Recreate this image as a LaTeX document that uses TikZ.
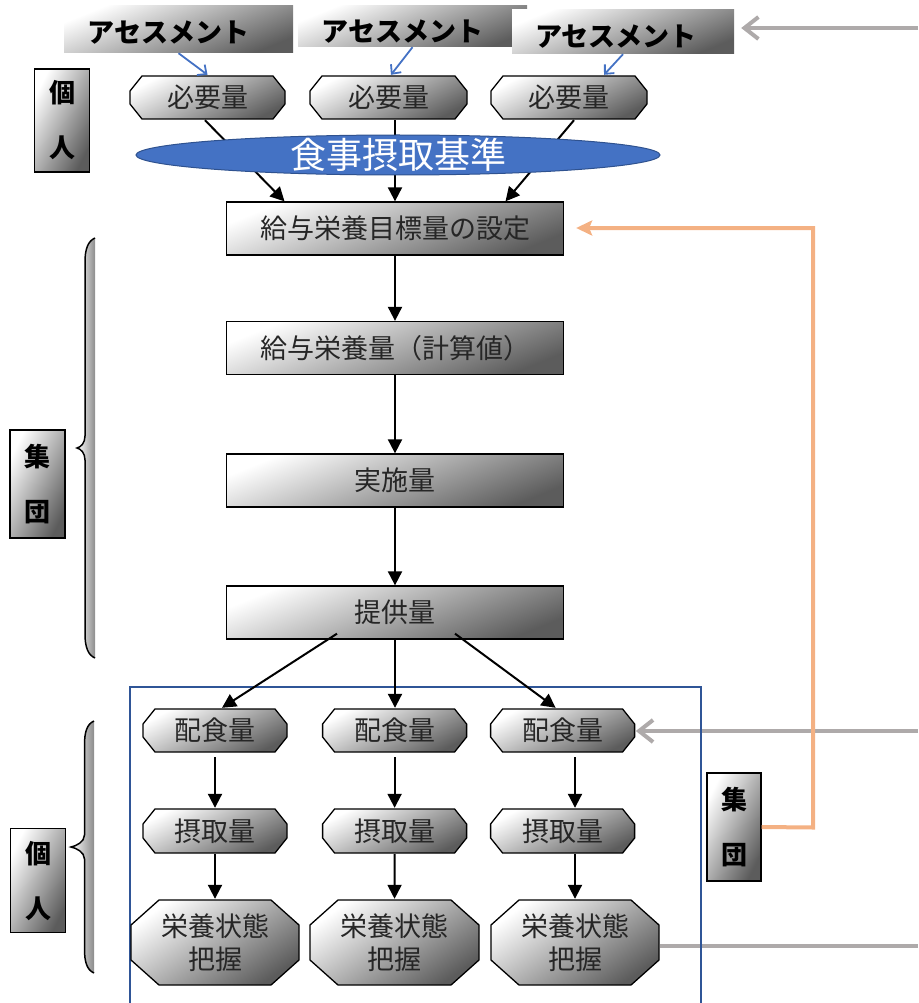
\documentclass[tikz,border=0pt]{standalone}
\usepackage{fontspec}
\newfontfamily\jp{Noto Sans CJK JP}
\usetikzlibrary{arrows.meta,calc,shapes.geometric}

\definecolor{boxdark}{RGB}{92,92,92}
\definecolor{ellblue}{RGB}{68,114,196}
\definecolor{ellrim}{RGB}{47,82,143}
\definecolor{frameblue}{RGB}{47,85,151}
\definecolor{feedgray}{RGB}{174,170,170}
\definecolor{feedorange}{RGB}{244,177,131}

\tikzset{
  gradfill/.style={top color=white, middle color=black!18, bottom color=boxdark, shading angle=#1},
  gradfill/.default=45,
  bxplain/.style={font=\jp\fontsize{27}{33}\selectfont, text=black!85, inner sep=0pt, align=center},
  bxbold/.style={font=\jp\bfseries\fontsize{26}{55}\selectfont, text=black, inner sep=0pt, align=center},
  stagebox/.style={bxplain, draw=black, line width=1.3pt, gradfill=22,
    minimum width=337pt, minimum height=53pt},
  assessbox/.style={font=\jp\bfseries\fontsize{27}{30}\selectfont, text=black,
    inner sep=0pt, gradfill=22, text depth=0pt},
  sidebox/.style={bxbold, draw=black, line width=1.3pt, gradfill=63, minimum width=55pt},
  % chamfered box: the outline is drawn 1pt inside the node rectangle
  octabox/.style n args={3}{bxplain,
    path picture={
      \path[draw=black, line width=1.3pt, gradfill=#3]
        let \p1=([shift={(1pt,-1pt)}]path picture bounding box.north west),
            \p2=([shift={(-1pt,1pt)}]path picture bounding box.south east) in
        (\x1+#1,\y1) -- (\x2-#1,\y1) -- (\x2,\y1-#2) -- (\x2,\y2+#2)
        -- (\x2-#1,\y2) -- (\x1+#1,\y2) -- (\x1,\y2+#2) -- (\x1,\y1-#2) -- cycle;
    }},
  smallocta/.style={octabox={12pt}{15pt}{28}},
  largeocta/.style={octabox={28pt}{25pt}{35}},
  flowarrow/.style={draw=black, line width=2pt, -{Triangle[length=14pt,width=14pt]}},
  bluearrow/.style={draw=ellblue, line width=1.8pt, -{Straight Barb[length=7pt,width=13pt]}},
  grayarrow/.style={draw=feedgray, line width=4pt, -{Straight Barb[length=14pt,width=22pt]}},
  grayline/.style={draw=feedgray, line width=4pt},
  orangearrow/.style={draw=feedorange, line width=4pt, line join=miter,
    -{Stealth[length=16pt,width=15pt,inset=3pt]}},
}

\begin{document}
\begin{tikzpicture}[x=1pt,y=-1pt]
\useasboundingbox (0,0) rectangle (918,1003);

% frame around the individual stages
\draw[frameblue, line width=1.5pt] (130,1004) |- (701,687) -- (701,1004);

% assessment headers
\node[assessbox, minimum width=229pt, minimum height=47pt, text height=27pt] (A1) at (178.5,29.5) {アセスメント\hspace*{20pt}};
\node[assessbox, minimum width=229pt, minimum height=41pt, text height=31pt] (A2) at (412.5,26.5) {アセスメント\hspace*{20pt}};
\node[assessbox, minimum width=222pt, minimum height=44pt, text height=30pt] (A3) at (623,32) {アセスメント\hspace*{14pt}};

% requirements
\node[smallocta, minimum width=157pt, minimum height=45pt] (B1) at (207.5,97.5) {必要量};
\node[smallocta, minimum width=159pt, minimum height=45pt] (B2) at (388.5,97.5) {必要量};
\node[smallocta, minimum width=158pt, minimum height=45pt] (B3) at (569,97.5) {必要量};

% group stages
\node[stagebox] (S1) at (395,228.5) {給与栄養目標量の設定};
\node[stagebox] (S2) at (395,348) {給与栄養量（計算値）};
\node[stagebox] (S3) at (395,480.5) {実施量};
\node[stagebox] (S4) at (395,612.5) {提供量};

% individual stages
\node[smallocta, minimum width=146pt, minimum height=45pt] (H1) at (215,730.5) {配食量};
\node[smallocta, minimum width=146pt, minimum height=45pt] (H2) at (394.6,730.5) {配食量};
\node[smallocta, minimum width=146pt, minimum height=45pt] (H3) at (562.6,730.5) {配食量};
\node[smallocta, minimum width=146pt, minimum height=46pt] (I1) at (215,831) {摂取量};
\node[smallocta, minimum width=146pt, minimum height=46pt] (I2) at (394.6,831) {摂取量};
\node[smallocta, minimum width=146pt, minimum height=46pt] (I3) at (562.6,831) {摂取量};
\node[largeocta, minimum width=170pt, minimum height=87pt] (J1) at (215,942.5) {栄養状態\\把握};
\node[largeocta, minimum width=171pt, minimum height=87pt] (J2) at (394.5,942.5) {栄養状態\\把握};
\node[largeocta, minimum width=170pt, minimum height=87pt] (J3) at (575,942.5) {栄養状態\\把握};

% side labels
\node[sidebox, minimum height=103pt] (P1) at (62.3,120.5) {個\\人};
\node[sidebox, minimum height=108pt] (G1) at (37.5,484) {集\\団};
\node[sidebox, minimum height=104pt] (P2) at (38,880.7) {個\\人};
\node[sidebox, minimum width=54pt, minimum height=108pt] (G2) at (734,827) {集\\団};

% braces
\shade[left color=white, right color=black!45]
  (95,238) .. controls (88,241) and (85,249) .. (85,262) -- (85,436)
  .. controls (85,443) and (81,447) .. (77,448) .. controls (81,449) and (85,453) .. (85,460)
  -- (85,634) .. controls (85,647) and (88,655) .. (95,658) -- cycle;
\draw[black, line width=1.5pt]
  (95,238) .. controls (88,241) and (85,249) .. (85,262) -- (85,436)
  .. controls (85,443) and (81,447) .. (77,448) .. controls (81,449) and (85,453) .. (85,460)
  -- (85,634) .. controls (85,647) and (88,655) .. (95,658);
\shade[left color=white, right color=black!45]
  (94,721) .. controls (87,724) and (84.5,732) .. (84.5,745) -- (84.5,835)
  .. controls (84.5,842) and (76,846) .. (71,847) .. controls (76,848) and (84.5,852) .. (84.5,859)
  -- (84.5,949) .. controls (84.5,962) and (87,970) .. (94,973) -- cycle;
\draw[black, line width=1.5pt]
  (94,721) .. controls (87,724) and (84.5,732) .. (84.5,745) -- (84.5,835)
  .. controls (84.5,842) and (76,846) .. (71,847) .. controls (76,848) and (84.5,852) .. (84.5,859)
  -- (84.5,949) .. controls (84.5,962) and (87,970) .. (94,973);

% assessment to requirement
\draw[bluearrow] (A1.south) -- (B1.north);
\draw[bluearrow] (A2.south) -- ([xshift=2.5pt]B2.north);
\draw[bluearrow] (A3.south) -- ([xshift=35pt]B3.north);

% requirements to target setting, behind the reference ellipse
\draw[flowarrow] ([xshift=-2.5pt]B1.south) -- ([xshift=-110.5pt]S1.north);
\draw[flowarrow] (B2.south -| S1.north) -- (S1.north);
\draw[flowarrow] ([xshift=5pt]B3.south) -- ([xshift=110.5pt]S1.north);
\node[ellipse, draw=ellrim, line width=1pt, fill=ellblue, minimum width=524pt,
  minimum height=40pt, inner sep=0pt,
  label={[font=\jp\fontsize{36}{40}\selectfont, text=white, inner sep=0pt]center:食事摂取基準}]
  (E) at (398,155) {};

% group chain
\draw[flowarrow] (S1) -- (S2);
\draw[flowarrow] (S2) -- (S3);
\draw[flowarrow] (S3) -- (S4);
\draw[flowarrow] ([xshift=-58pt,yshift=6pt]S4.south) -- ([xshift=7pt]H1.north);
\draw[flowarrow] (S4.south) -- (S4.south |- H2.north);
\draw[flowarrow] ([xshift=60pt,yshift=6pt]S4.south) -- ([xshift=-7pt]H3.north);

% individual chains
\draw[flowarrow, shorten <=4pt] (H1) -- (I1);
\draw[flowarrow, shorten <=4pt] (H2) -- (I2);
\draw[flowarrow, shorten <=4pt] (H3.south -| J3.north) -- (I3.north -| J3.north);
\draw[flowarrow] (I1) -- (J1);
\draw[flowarrow] (I2) -- (J2);
\draw[flowarrow] (I3.south -| J3.north) -- (J3.north);

% feedback lines
\coordinate (gA) at (918,28);
\coordinate (gB) at (918,731);
\coordinate (gC) at (918,946);
\draw[grayarrow, shorten >=7pt] (gA) -- (gA -| A3.east);
\draw[grayarrow] (gB) -- (gB -| H3.east);
\draw[grayline] (gC) -- (gC -| J3.east);
\draw[frameblue, line width=1.5pt] (701,700) -- (701,960);

\coordinate (oA) at (813,827.5);
\coordinate (oB) at (813,228);
\draw[orangearrow, shorten >=12pt] (G2.east) -- (oA) -- (oB) -- (oB -| S1.east);
\end{tikzpicture}
\end{document}
